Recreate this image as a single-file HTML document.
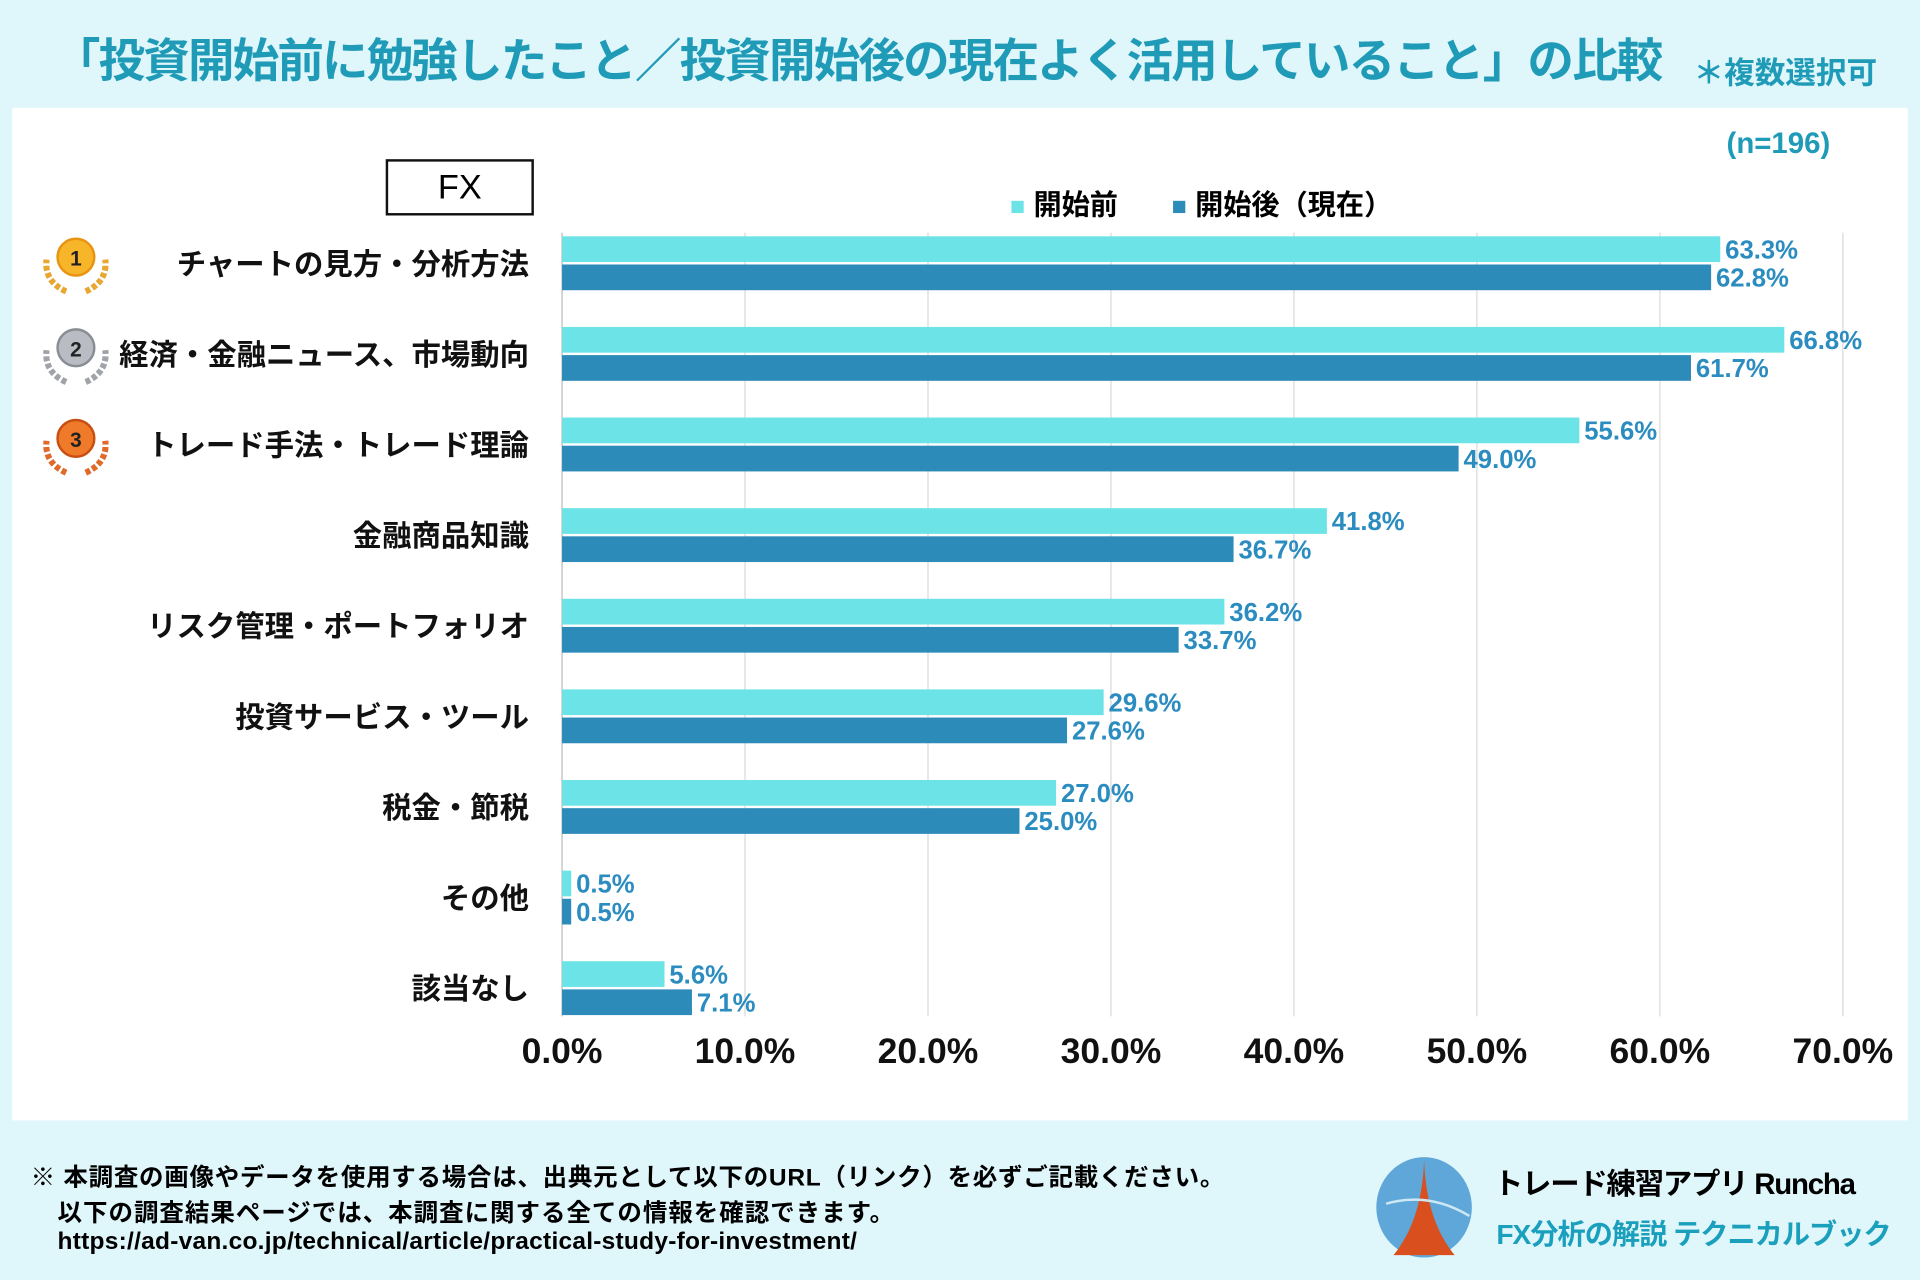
<!DOCTYPE html>
<html><head><meta charset="utf-8"><style>
html,body{margin:0;padding:0;width:1920px;height:1280px;overflow:hidden;background:#dff6fb;}
#wrap{position:absolute;left:0;top:0;width:1568px;height:1045px;transform:scale(1.22449);transform-origin:0 0;font-family:"Liberation Sans","Noto Sans CJK JP",sans-serif;}
.abs{position:absolute;white-space:nowrap;}
</style></head><body>
<div id="wrap">
<div class="abs" style="left:44px;top:19px;font-size:38px;font-weight:bold;color:#1f9bb7;letter-spacing:-1.5px;">「投資開始前に勉強したこと／投資開始後の現在よく活用していること」の比較</div>
<div class="abs" style="left:1383px;top:40px;font-size:25px;font-weight:bold;color:#1f9bb7;">＊複数選択可</div>
<div class="abs" style="left:10px;top:88px;width:1548px;height:827px;background:#fff;"></div>
<div class="abs" style="left:1410px;top:104px;font-size:24px;font-weight:bold;color:#1f9bb7;">(n=196)</div>
<div class="abs" style="left:315px;top:130px;width:117px;height:42px;border:2px solid #111;font-size:28px;text-align:center;line-height:42px;">FX</div>
<div class="abs" style="left:826px;top:148px;font-size:23px;font-weight:bold;"><span style="display:inline-block;width:10px;height:10px;background:#6ce3e6;margin-right:8px;vertical-align:middle;"></span>開始前</div>
<div class="abs" style="left:958px;top:148px;font-size:23px;font-weight:bold;"><span style="display:inline-block;width:10px;height:10px;background:#2d8bb9;margin-right:8px;vertical-align:middle;"></span>開始後（現在）</div>
<svg id="chart" class="abs" style="left:0;top:0;" width="1568" height="915"></svg>
<div class="abs" style="left:25px;top:945px;font-size:20px;font-weight:bold;letter-spacing:0.6px;">※ 本調査の画像やデータを使用する場合は、出典元として以下のURL（リンク）を必ずご記載ください。</div>
<div class="abs" style="left:47px;top:974px;font-size:20px;font-weight:bold;letter-spacing:0.8px;">以下の調査結果ページでは、本調査に関する全ての情報を確認できます。</div>
<div class="abs" style="left:47px;top:1003px;font-size:20px;font-weight:bold;letter-spacing:0.2px;">https://ad-van.co.jp/technical/article/practical-study-for-investment/</div>
<svg class="abs" style="left:1122px;top:943px;" width="84" height="86">
<ellipse cx="41" cy="43" rx="39" ry="41" fill="#5ea7d8"/>
<path d="M41 4 C40 40 30 65 16 82 L66 82 C52 65 42 40 41 4Z" fill="#d94f1e"/>
<path d="M10 40 Q45 30 78 50" stroke="#cde8f5" stroke-width="2" fill="none"/>
</svg>
<div class="abs" style="left:1220px;top:947px;font-size:24px;font-weight:bold;letter-spacing:-1px;">トレード練習アプリ Runcha</div>
<div class="abs" style="left:1222px;top:989px;font-size:23px;font-weight:bold;color:#1aa0bc;letter-spacing:-0.8px;">FX分析の解説 テクニカルブック</div>
</div>
<script>
const categories=["チャートの見方・分析方法","経済・金融ニュース、市場動向","トレード手法・トレード理論","金融商品知識","リスク管理・ポートフォリオ","投資サービス・ツール","税金・節税","その他","該当なし"];
const beforeValues=[63.3,66.8,55.6,41.8,36.2,29.6,27.0,0.5,5.6];
const afterValues=[62.8,61.7,49.0,36.7,33.7,27.6,25.0,0.5,7.1];
const tickValues=[0,10,20,30,40,50,60,70];
const tickLabels=["0.0%","10.0%","20.0%","30.0%","40.0%","50.0%","60.0%","70.0%"];
const NS="http://www.w3.org/2000/svg";
const svg=document.getElementById('chart');
const x0=459,x1=1505,rowTop=193,rowPitch=74,barH=21;
const xs=v=>x0+(v/70)*(x1-x0);
const ys=i=>rowTop+i*rowPitch;
function mk(t,a){const e=document.createElementNS(NS,t);for(const k in a)e.setAttribute(k,a[k]);svg.appendChild(e);return e;}
tickValues.forEach((v,i)=>{
 const g=mk('line',{x1:xs(v),x2:xs(v),y1:190,y2:830,stroke:i==0?'#bbb':'#d9d9d9','stroke-width':1});
 
 
 const t=mk('text',{x:xs(v),y:868,'text-anchor':'middle','font-size':29,'font-weight':'bold',fill:'#111'});
 t.textContent=tickLabels[i];
 
 
});
const medalCols=[["#f7b52a","#e89410","#e8a730"],["#b9bcc2","#8a8d94","#a0a3a8"],["#ef7a2a","#c84e12","#df6a2a"]];
categories.forEach((c,i)=>{
 const y=ys(i);
 const l=mk('text',{x:432,y:y+31,'text-anchor':'end','font-size':24,'font-weight':'bold',fill:'#111'});
 l.textContent=c;
 
 
 const b=mk('rect',{x:x0,y:y,width:xs(beforeValues[i])-x0,height:barH,fill:'#6ce3e6'});
 
 
 const a=mk('rect',{x:x0,y:y+23,width:xs(afterValues[i])-x0,height:barH,fill:'#2d8bb9'});
 
 
 const tb=mk('text',{x:xs(beforeValues[i])+4,y:y+18,'font-size':21,'font-weight':'bold',fill:'#2b8cc0'});
 tb.textContent=beforeValues[i].toFixed(1)+'%';
 
 
 const ta=mk('text',{x:xs(afterValues[i])+4,y:y+41,'font-size':21,'font-weight':'bold',fill:'#2b8cc0'});
 ta.textContent=afterValues[i].toFixed(1)+'%';
 
 
 if(i<3){
  const cy=y+23,cx=62,col=medalCols[i];
  const w1=mk('path',{d:`M${cx-8} ${cy+22} Q${cx-26} ${cy+14} ${cx-24} ${cy-4}`,stroke:col[2],'stroke-width':5,fill:'none','stroke-dasharray':'4 2'});
  
  
  const w2=mk('path',{d:`M${cx+8} ${cy+22} Q${cx+26} ${cy+14} ${cx+24} ${cy-4}`,stroke:col[2],'stroke-width':5,fill:'none','stroke-dasharray':'4 2'});
  
  
  const m=mk('circle',{cx:cx,cy:cy-6,r:15,fill:col[0],stroke:col[1],'stroke-width':2});
  
  
  const n=mk('text',{x:cx,y:cy+1,'text-anchor':'middle','font-size':17,'font-weight':'bold',fill:'#222'});
  n.textContent=String(i+1);
  
  
 }
});
</script>
</body></html>
